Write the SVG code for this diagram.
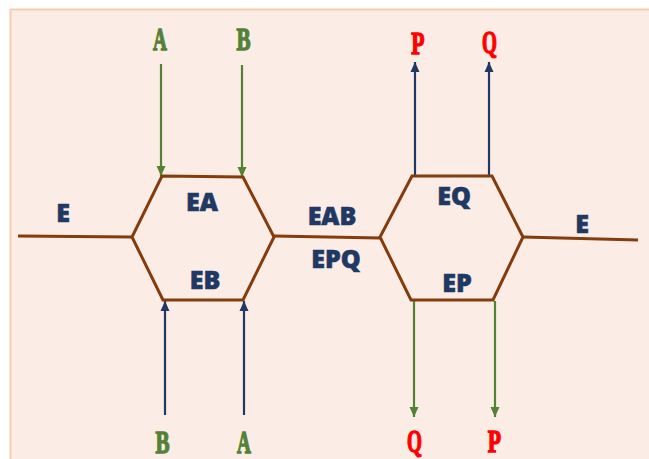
<svg xmlns="http://www.w3.org/2000/svg" width="649" height="459" viewBox="0 0 649 459">
<defs>
<style>
.hex{fill:none;stroke:#843C0C;stroke-width:3;stroke-linejoin:miter}
.bond{fill:none;stroke:#843C0C;stroke-width:3}
.g{stroke:#548235;stroke-width:2.2;fill:none}
.b{stroke:#1F3864;stroke-width:2.2;fill:none}
.lbl{font-family:"Open Sans","DejaVu Sans",sans-serif;font-weight:800;font-size:25px;fill:#1F3864;stroke:#1F3864;stroke-width:0.6;text-anchor:middle}
.sub{font-family:"Liberation Serif","Times New Roman",serif;font-weight:700;font-size:31px;text-anchor:middle;stroke-width:1.4}
.sg{fill:#548235;stroke:#548235}
.sr{fill:#FF0000;stroke:#FF0000}
</style>
<marker id="ag" markerUnits="userSpaceOnUse" markerWidth="12" markerHeight="12" viewBox="0 0 12 12" refX="10" refY="6" orient="auto">
<path d="M0,1.5 L10,6 L0,10.5 Z" fill="#548235"/>
</marker>
<marker id="ab" markerUnits="userSpaceOnUse" markerWidth="12" markerHeight="12" viewBox="0 0 12 12" refX="10" refY="6" orient="auto">
<path d="M0,1.5 L10,6 L0,10.5 Z" fill="#1F3864"/>
</marker>
</defs>
<rect x="10.5" y="9.5" width="660" height="470" fill="#FBEDE5" stroke="#F8CBAD" stroke-width="2"/>
<g id="connectors">
<line class="bond" x1="18" y1="236" x2="132" y2="237"/>
<line class="bond" x1="274" y1="236" x2="380" y2="238"/>
<line class="bond" x1="523" y1="237" x2="638" y2="240"/>
<line class="g" x1="161" y1="64" x2="161" y2="176" marker-end="url(#ag)"/>
<line class="g" x1="242" y1="65" x2="242" y2="177" marker-end="url(#ag)"/>
<line class="b" x1="165" y1="415" x2="165" y2="301" marker-end="url(#ab)"/>
<line class="b" x1="244" y1="415" x2="244" y2="301" marker-end="url(#ab)"/>
<line class="b" x1="415" y1="175" x2="415" y2="62" marker-end="url(#ab)"/>
<line class="b" x1="489" y1="175" x2="489" y2="62" marker-end="url(#ab)"/>
<line class="g" x1="414" y1="301" x2="414" y2="417" marker-end="url(#ag)"/>
<line class="g" x1="495" y1="301" x2="495" y2="417" marker-end="url(#ag)"/>
</g>
<g id="hex1">
<polygon class="hex" points="162,176 243,177 274,237 243,300 163,300 132,237"/>
<text class="lbl" x="202" y="211">EA</text>
<text class="lbl" x="205" y="289">EB</text>
</g>
<g id="hex2">
<polygon class="hex" points="412,176 492,176 523,237 493,300 411,300 380,237"/>
<text class="lbl" x="454" y="205">EQ</text>
<text class="lbl" x="457" y="292">EP</text>
</g>
<g id="complex">
<text class="lbl" x="332" y="225">EAB</text>
<text class="lbl" x="336" y="268">EPQ</text>
</g>
<g id="enzyme-left"><text class="lbl" x="63" y="222">E</text></g>
<g id="enzyme-right"><text class="lbl" x="582" y="233">E</text></g>
<g id="substrates">
<text class="sub sg" transform="translate(160,50) scale(0.62,1)">A</text>
<text class="sub sg" transform="translate(243.5,50) scale(0.68,1)">B</text>
<text class="sub sg" transform="translate(162.5,453) scale(0.68,1)">B</text>
<text class="sub sg" transform="translate(244,453) scale(0.62,1)">A</text>
</g>
<g id="products">
<text class="sub sr" transform="translate(418,54) scale(0.7,1)">P</text>
<text class="sub sr" transform="translate(489.5,53) scale(0.62,1)">Q</text>
<text class="sub sr" transform="translate(414.5,452) scale(0.62,1)">Q</text>
<text class="sub sr" transform="translate(494.5,452) scale(0.7,1)">P</text>
</g>
</svg>
